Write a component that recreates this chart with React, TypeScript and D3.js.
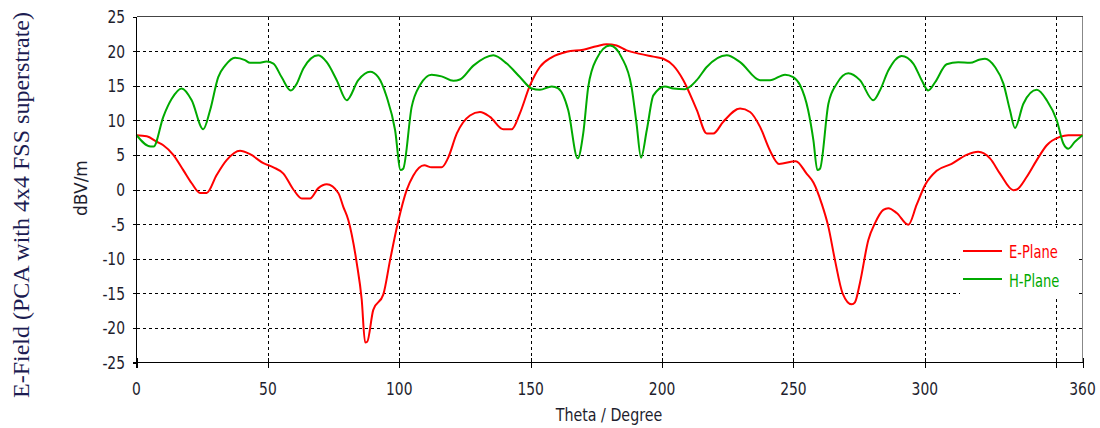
import React from "react";
import * as d3 from "d3";

// Far-field E-field cuts of the PCA with a 4x4 FSS superstrate (dBV/m vs theta)
const ePlaneTheta = [
  0, 3.9, 7.7, 10.2, 14, 17.8, 21, 24.2, 26.7, 30.5, 34.3, 39.4, 43.2, 48.3, 52.1, 55.9, 59.7,
  62.9, 66, 69.2, 72.4, 76.8, 78.7, 80.6, 83.8, 85.7, 87, 87.8, 90.1, 93.9, 96.5, 99.6, 102.8,
  105.3, 109.5, 112.3, 116.1, 118.5, 121.9, 126.9, 130.7, 134.5, 139.6, 142.8, 145.9, 149.7,
  153.5, 158, 163.7, 170, 175.1, 178.9, 182.7, 186.5, 191.6, 196.7, 200.5, 204.3, 208.1, 213.2,
  217, 219.5, 223.3, 229.7, 233.5, 237.3, 241.1, 244.5, 250.9, 255, 257.6, 260.7, 263.3, 265.8,
  268.7, 272.2, 273.4, 275.3, 278.5, 281, 284.2, 286.1, 289.3, 293.7, 296.9, 300.1, 304.5,
  310.2, 315.9, 320.3, 324.8, 328.6, 333.7, 335, 338.8, 342.6, 346.4, 351.4, 354.6, 360,
];
const ePlaneValues = [
  7.85, 7.7, 6.9, 6.4, 5.0, 2.8, 0.9, -0.5, -0.5, 2.1, 4.25, 5.6, 5.1, 3.8, 3.2, 2.3, 0.0,
  -1.3, -1.3, 0.2, 0.75, -0.5, -2.5, -4.4, -10.6, -15.9, -22.1, -22.0, -17.4, -15.2, -10.2, -4.6, -0.1,
  2.0, 3.5, 3.2, 3.2, 4.5, 8.1, 10.7, 11.2, 10.5, 8.7, 8.7, 11.0, 15.0,
  17.7, 19.1, 19.9, 20.2, 20.7, 21.0, 20.8, 20.1, 19.6, 19.2, 18.9, 17.9, 15.8, 11.5,
  8.1, 8.1, 9.8, 11.7, 11.2, 9.05, 5.6, 3.7, 4.1, 2.3, 1.0, -2.0, -5.4, -10.2,
  -15.0, -16.6, -16.3, -13.5, -7.3, -4.9, -2.95, -2.7, -3.4, -5.1, -2.2, 0.65, 2.7,
  3.7, 5.0, 5.45, 4.5, 2.3, -0.1, 0.0, 1.85, 4.25, 6.4, 7.6, 7.85, 7.85,
];

const hPlaneTheta = [
  0, 5.4, 6.5, 10.2, 13.4, 17.2, 21, 25.4, 28, 31.1, 33.7, 37.5, 41.3, 43.2, 46.4, 49.5, 52.1,
  55.2, 58.7, 61, 63.5, 69.2, 72.4, 76.2, 80, 84.4, 88.9, 92, 95.2, 98.4, 100.5, 101.5, 104.7,
  107.9, 112.3, 116.1, 120.6, 123.1, 128.2, 135.8, 140.9, 145.9, 150.4, 153.5, 158, 160.5,
  164.3, 167.9, 170, 171.9, 175.1, 180.2, 184.6, 188.4, 190.3, 192, 194.2, 196.7, 201.1, 204.3,
  208.7, 213.2, 217, 224.6, 229.7, 237.3, 241.1, 246.8, 249.9, 252.5, 255.6, 257.6, 259.1,
  260.1, 263.3, 266.5, 270.9, 275.3, 280.4, 282.9, 286.1, 291.2, 295.6, 298.8, 301.3, 303.9,
  308.3, 312.7, 317.2, 321, 322.9, 326.7, 329.9, 332.4, 334.3, 337.5, 342.6, 346.4, 350.2,
  352.7, 354.6, 357.1, 360,
];
const hPlaneValues = [
  7.85, 6.2, 6.2, 10.5, 13.1, 14.6, 12.9, 8.7, 11.45, 16.25, 17.9, 19.05, 18.7, 18.3, 18.3, 18.5, 18.2,
  16.25, 14.3, 15.3, 17.5, 19.4, 18.4, 15.8, 12.9, 15.8, 17.0, 16.25, 13.4, 8.6, 2.8, 3.0, 11.9,
  15.1, 16.6, 16.35, 15.7, 15.9, 17.9, 19.4, 18.2, 16.25, 14.6, 14.4, 14.9, 14.6,
  11.45, 4.5, 8.1, 14.8, 18.9, 20.8, 19.1, 14.8, 9.5, 4.6, 8.6, 13.6, 14.9, 14.6,
  14.5, 15.8, 17.7, 19.4, 18.4, 15.8, 15.8, 16.6, 16.25, 15.1, 11.45, 7.1, 2.8,
  3.0, 12.4, 15.3, 16.8, 15.8, 12.9, 14.3, 17.2, 19.3, 18.2, 15.8, 14.3, 15.5,
  18.1, 18.4, 18.3, 18.8, 18.9, 17.7, 15.3, 11.45, 8.9, 12.4, 14.4, 12.9, 10.0,
  6.65, 5.9, 6.9, 7.85,
];

const xTicks = [0, 50, 100, 150, 200, 250, 300, 350, 360];
const xTickLabels = [0, 50, 100, 150, 200, 250, 300, 360];
const yTicks = [-25, -20, -15, -10, -5, 0, 5, 10, 15, 20, 25];
const xGrid = [50, 100, 150, 200, 250, 300, 350];
const yGrid = [-20, -15, -10, -5, 0, 5, 10, 15, 20];

const seriesNames = ["E-Plane", "H-Plane"];
const seriesColors = ["#ff0000", "#00aa00"];

const W = 1100;
const H = 428;
const left = 136.5;
const right = 1082.5;
const top = 16.5;
const bottom = 362.5;

const sansFont = "'DejaVu Sans', sans-serif";
const textColor = "#1e1e2e";
const squeeze = 0.77;

// Horizontally condensed label: tall, narrow glyphs
function NarrowText({
  x,
  y,
  anchor = "start",
  size = 18,
  fill = textColor,
  children,
}: {
  x: number;
  y: number;
  anchor?: "start" | "middle" | "end";
  size?: number;
  fill?: string;
  children: React.ReactNode;
}) {
  return (
    <text
      transform={`translate(${x},${y}) scale(${squeeze},1)`}
      textAnchor={anchor}
      fontFamily={sansFont}
      fontSize={size}
      fill={fill}
    >
      {children}
    </text>
  );
}

export default function App() {
  const x = d3.scaleLinear().domain([0, 360]).range([left, right]);
  const y = d3.scaleLinear().domain([-25, 25]).range([bottom, top]);

  const line = d3
    .line<[number, number]>()
    .x((d) => x(d[0]))
    .y((d) => y(d[1]))
    .curve(d3.curveMonotoneX);

  const ePts = ePlaneTheta.map((t, i) => [t, ePlaneValues[i]] as [number, number]);
  const hPts = hPlaneTheta.map((t, i) => [t, hPlaneValues[i]] as [number, number]);

  const legendX = 960;
  const legendY = 228;

  return (
    <svg
      width={W}
      height={H}
      viewBox={`0 0 ${W} ${H}`}
      style={{ position: "absolute", left: 0, top: 0, background: "#fff" }}
    >
      <rect x={0} y={0} width={W} height={H} fill="#fff" />

      {/* dashed grid */}
      <g stroke="#000" strokeWidth={1} strokeDasharray="3,3" shapeRendering="crispEdges">
        {yGrid.map((v) => (
          <line key={`gy${v}`} x1={left} x2={right} y1={Math.round(y(v)) + 0.5} y2={Math.round(y(v)) + 0.5} />
        ))}
        {xGrid.map((v) => (
          <line key={`gx${v}`} y1={top} y2={bottom} x1={Math.round(x(v)) + 0.5} x2={Math.round(x(v)) + 0.5} />
        ))}
      </g>

      {/* frame */}
      <line x1={left} x2={right} y1={top} y2={top} stroke="#444" strokeWidth={1} shapeRendering="crispEdges" />
      <line x1={right} x2={right} y1={top} y2={bottom} stroke="#888" strokeWidth={1} shapeRendering="crispEdges" />

      {/* curves */}
      <path d={line(ePts) ?? ""} fill="none" stroke={seriesColors[0]} strokeWidth={2} strokeLinejoin="round" />
      <path d={line(hPts) ?? ""} fill="none" stroke={seriesColors[1]} strokeWidth={2} strokeLinejoin="round" />

      {/* axes */}
      <g stroke="#000" strokeWidth={1} shapeRendering="crispEdges">
        <line x1={left} x2={left} y1={top} y2={bottom + 5} />
        <line x1={left - 4} x2={right} y1={bottom} y2={bottom} />
        {yTicks.map((v) => (
          <line key={`ty${v}`} x1={left - 4} x2={left} y1={Math.round(y(v)) + 0.5} y2={Math.round(y(v)) + 0.5} />
        ))}
        {xTicks.map((v) => (
          <line key={`tx${v}`} x1={Math.round(x(v)) + 0.5} x2={Math.round(x(v)) + 0.5} y1={bottom - 5} y2={bottom + 5} />
        ))}
      </g>

      {/* tick labels */}
      {yTicks.map((v) => (
        <NarrowText key={`ly${v}`} x={125} y={y(v) + 6.5} anchor="end">
          {v}
        </NarrowText>
      ))}
      {xTickLabels.map((v) => (
        <NarrowText key={`lx${v}`} x={x(v)} y={395} anchor="middle">
          {v}
        </NarrowText>
      ))}
      <NarrowText x={609} y={421} anchor="middle" size={18.5}>
        Theta / Degree
      </NarrowText>

      <text
        transform="translate(87,188) rotate(-90)"
        textAnchor="middle"
        fontFamily={sansFont}
        fontSize={17}
        fill={textColor}
      >
        dBV/m
      </text>

      <text
        transform="translate(29,398) rotate(-90)"
        fontFamily="'Liberation Serif', 'Times New Roman', serif"
        fontSize={24}
        fill="#1c1c52"
      >
        E-Field (PCA with 4x4 FSS superstrate)
      </text>

      {/* legend */}
      <rect x={legendX} y={legendY} width={117} height={70} fill="#fff" />
      {seriesNames.map((name, i) => (
        <g key={name}>
          <line
            x1={963}
            x2={1002}
            y1={251 + i * 28}
            y2={251 + i * 28}
            stroke={seriesColors[i]}
            strokeWidth={2}
          />
          <NarrowText x={1009} y={258 + i * 29} size={17} fill={seriesColors[i]}>
            {name}
          </NarrowText>
        </g>
      ))}
    </svg>
  );
}
